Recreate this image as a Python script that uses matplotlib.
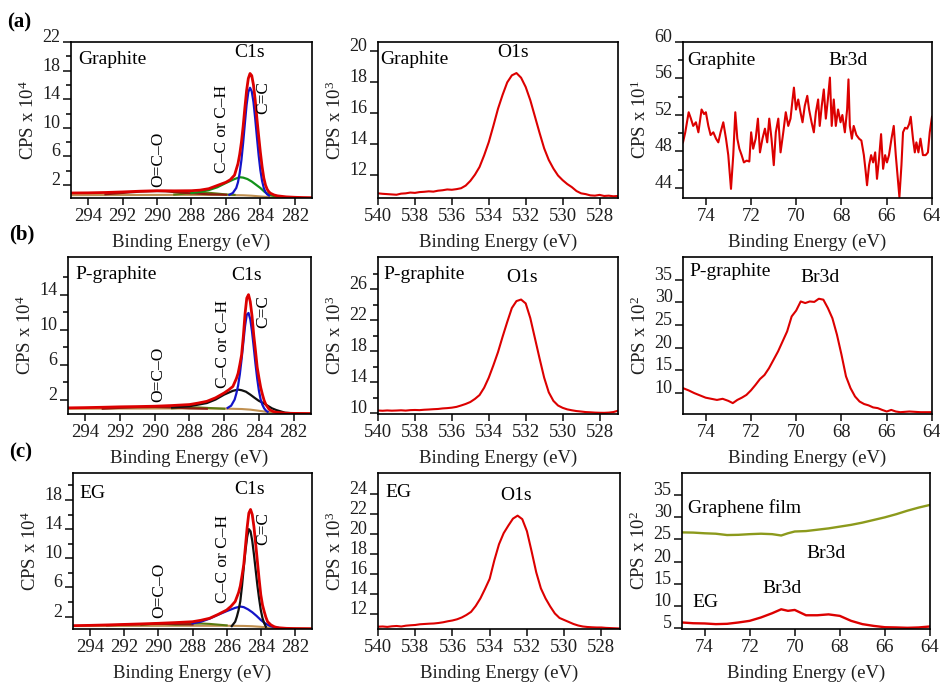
import matplotlib
matplotlib.use("Agg")
import matplotlib.pyplot as plt

plt.rcParams.update({
    "font.family": ["Liberation Serif", "DejaVu Serif"],
    "mathtext.fontset": "custom",
    "mathtext.rm": "Liberation Serif",
    "mathtext.it": "Liberation Serif:italic",
    "mathtext.bf": "Liberation Serif:bold",
    "axes.linewidth": 1.2,
})

# ---------------- C1s spectra ----------------
# (a) Graphite
c1s_a_env_x = [295.0, 294.0, 293.0, 292.0, 291.0, 290.0, 289.0, 288.0, 287.5, 287.0, 286.5, 286.0,
               285.75, 285.5, 285.3, 285.2, 285.1, 285.0, 284.9, 284.8, 284.7, 284.6, 284.5, 284.4,
               284.3, 284.2, 284.1, 284.0, 283.9, 283.8, 283.7, 283.6, 283.5, 283.4, 283.2, 283.0,
               282.5, 282.0, 281.5, 281.0]
c1s_a_env_y = [0.90, 0.92, 0.97, 1.05, 1.15, 1.22, 1.20, 1.22, 1.30, 1.50, 1.95, 2.40,
               2.75, 3.40, 5.00, 6.30, 8.00, 10.2, 12.8, 15.2, 16.9, 17.6, 17.3, 16.0,
               13.9, 11.3, 8.90, 6.60, 4.60, 3.00, 2.00, 1.40, 1.05, 0.85, 0.62, 0.50,
               0.36, 0.30, 0.26, 0.24]
c1s_a_cc2_x = [285.8, 285.6, 285.4, 285.3, 285.2, 285.1, 285.0, 284.9, 284.8, 284.7, 284.6, 284.5,
               284.4, 284.3, 284.2, 284.1, 284.0, 283.9, 283.8, 283.7, 283.6, 283.5]
c1s_a_cc2_y = [0.65, 0.90, 1.60, 2.40, 3.70, 5.50, 7.90, 10.6, 13.2, 15.0, 15.6, 15.1,
               13.6, 11.3, 8.70, 6.20, 4.10, 2.60, 1.60, 1.00, 0.70, 0.55]
c1s_a_cc_x = [288.0, 287.5, 287.0, 286.5, 286.0, 285.5, 285.2, 285.0, 284.75, 284.5, 284.25, 284.0,
              283.75, 283.5, 283.25, 283.0]
c1s_a_cc_y = [0.90, 1.05, 1.30, 1.70, 2.30, 2.85, 3.10, 3.05, 2.85, 2.50, 2.05, 1.60,
              1.05, 0.70, 0.50, 0.42]
c1s_a_oco_x = [293.0, 292.0, 291.0, 290.0, 289.5, 289.0, 288.0, 287.0, 286.0]
c1s_a_oco_y = [0.72, 0.90, 1.08, 1.15, 1.12, 1.02, 0.85, 0.72, 0.66]
c1s_a_co_x = [289.0, 288.5, 288.0, 287.5, 287.0, 286.5, 286.0, 285.5]
c1s_a_co_y = [0.68, 0.78, 0.88, 0.95, 0.93, 0.82, 0.70, 0.64]
c1s_a_bg_x = [295.0, 292.0, 289.0, 286.0, 285.0, 284.5, 284.0, 283.5, 283.0, 282.0, 281.0]
c1s_a_bg_y = [0.60, 0.62, 0.64, 0.62, 0.58, 0.52, 0.42, 0.32, 0.27, 0.23, 0.21]

# (b) P-graphite
c1s_b_env_x = [295.0, 294.0, 293.0, 292.0, 291.0, 290.0, 289.0, 288.0, 287.5, 287.0, 286.5, 286.0,
               285.75, 285.5, 285.3, 285.2, 285.1, 285.0, 284.9, 284.8, 284.7, 284.6, 284.5, 284.4,
               284.3, 284.2, 284.1, 284.0, 283.9, 283.8, 283.7, 283.6, 283.4, 283.2, 283.0, 282.5,
               282.0, 281.0]
c1s_b_env_y = [1.05, 1.08, 1.12, 1.17, 1.20, 1.24, 1.32, 1.43, 1.60, 1.80, 2.20, 2.76,
               3.10, 3.50, 4.40, 5.00, 6.00, 7.10, 9.20, 11.8, 13.6, 14.0, 13.2, 11.6,
               9.40, 7.60, 5.70, 4.50, 3.40, 2.60, 1.90, 1.43, 0.86, 0.65, 0.55, 0.45,
               0.42, 0.40]
c1s_b_cc2_x = [285.8, 285.6, 285.4, 285.3, 285.2, 285.1, 285.0, 284.9, 284.8, 284.7, 284.6, 284.5,
               284.4, 284.3, 284.2, 284.1, 284.0, 283.9, 283.8, 283.7, 283.6, 283.5]
c1s_b_cc2_y = [1.05, 1.30, 2.00, 2.70, 3.60, 4.90, 6.60, 8.50, 10.4, 11.7, 11.9, 11.2,
               9.80, 8.00, 6.10, 4.40, 3.00, 2.00, 1.40, 1.00, 0.75, 0.60]
c1s_b_cc_x = [289.0, 288.0, 287.0, 286.5, 286.0, 285.5, 285.2, 285.0, 284.75, 284.5, 284.25, 284.0,
              283.75, 283.5, 283.25, 283.0, 282.75, 282.5, 282.0]
c1s_b_cc_y = [1.10, 1.24, 1.60, 2.00, 2.57, 3.00, 3.14, 3.07, 2.90, 2.57, 2.20, 1.85,
              1.60, 1.30, 1.00, 0.80, 0.65, 0.50, 0.42]
c1s_b_oco_x = [293.0, 292.0, 291.0, 290.0, 289.0, 288.0, 287.0]
c1s_b_oco_y = [0.95, 1.05, 1.12, 1.15, 1.10, 1.00, 0.95]
c1s_b_co_x = [289.0, 288.5, 288.0, 287.5, 287.0, 286.5, 286.0]
c1s_b_co_y = [1.00, 1.06, 1.10, 1.10, 1.05, 1.00, 0.95]
c1s_b_bg_x = [295.0, 292.0, 289.0, 286.0, 285.0, 284.5, 284.0, 283.5, 283.0, 282.0, 281.0]
c1s_b_bg_y = [0.95, 0.97, 0.98, 0.97, 0.92, 0.85, 0.72, 0.58, 0.50, 0.43, 0.40]

# (c) EG
c1s_c_env_x = [295.0, 294.0, 293.0, 292.0, 291.0, 290.0, 289.0, 288.0, 287.5, 287.0, 286.5, 286.0,
               285.75, 285.5, 285.3, 285.2, 285.1, 285.0, 284.9, 284.8, 284.7, 284.6, 284.5, 284.4,
               284.3, 284.2, 284.1, 284.0, 283.9, 283.8, 283.7, 283.6, 283.4, 283.2, 283.0, 282.5,
               282.0, 281.0]
c1s_c_env_y = [0.76, 0.80, 0.86, 0.93, 1.00, 1.08, 1.18, 1.30, 1.50, 1.77, 2.30, 2.90,
               3.40, 4.07, 5.30, 6.20, 7.60, 9.10, 11.6, 14.2, 16.2, 16.7, 16.0, 14.3,
               12.0, 9.60, 7.20, 5.00, 3.60, 2.70, 1.90, 1.30, 0.85, 0.60, 0.48, 0.39,
               0.36, 0.34]
c1s_c_cc2_x = [285.7, 285.5, 285.4, 285.3, 285.2, 285.1, 285.0, 284.9, 284.8, 284.7, 284.6, 284.5,
               284.4, 284.3, 284.2, 284.1, 284.0, 283.9, 283.8, 283.7]
c1s_c_cc2_y = [0.70, 1.30, 2.00, 2.90, 4.10, 6.20, 8.70, 11.0, 12.9, 14.0, 13.7, 12.4,
               10.5, 8.40, 6.30, 4.50, 2.90, 1.80, 1.10, 0.60]
c1s_c_cc_x = [288.0, 287.5, 287.0, 286.5, 286.0, 285.5, 285.2, 285.0, 284.75, 284.5, 284.25, 284.0,
              283.75, 283.5, 283.25, 283.0]
c1s_c_cc_y = [1.08, 1.30, 1.72, 2.25, 2.75, 3.20, 3.38, 3.30, 3.00, 2.60, 2.10, 1.54,
              1.08, 0.76, 0.57, 0.48]
c1s_c_oco_x = [293.0, 292.0, 291.0, 290.0, 289.0, 288.0]
c1s_c_oco_y = [0.80, 0.88, 0.95, 1.00, 0.98, 0.92]
c1s_c_co_x = [291.0, 290.5, 290.0, 289.5, 289.0, 288.5, 288.0, 287.5, 287.0, 286.5, 286.0]
c1s_c_co_y = [0.85, 0.98, 1.05, 0.98, 0.90, 0.95, 1.03, 1.05, 1.00, 0.90, 0.80]
c1s_c_bg_x = [295.0, 292.0, 289.0, 286.0, 285.0, 284.5, 284.0, 283.5, 283.0, 282.0, 281.0]
c1s_c_bg_y = [0.70, 0.72, 0.74, 0.74, 0.72, 0.68, 0.60, 0.48, 0.42, 0.37, 0.34]

# ---------------- O1s spectra ----------------
o1s_x = [540.00, 539.75, 539.50, 539.25, 539.00, 538.75, 538.50, 538.25, 538.00, 537.75, 537.50,
         537.25, 537.00, 536.75, 536.50, 536.25, 536.00, 535.75, 535.50, 535.25, 535.00, 534.75,
         534.50, 534.25, 534.00, 533.75, 533.50, 533.25, 533.00, 532.75, 532.50, 532.25, 532.00,
         531.75, 531.50, 531.25, 531.00, 530.75, 530.50, 530.25, 530.00, 529.75, 529.50, 529.25,
         529.00, 528.75, 528.50, 528.25, 528.00, 527.75, 527.50, 527.25, 527.00]
o1s_a_y = [10.85, 10.82, 10.80, 10.78, 10.76, 10.83, 10.85, 10.90, 10.88, 10.93, 10.95,
           10.98, 10.96, 11.02, 11.05, 11.10, 11.08, 11.12, 11.18, 11.35, 11.65, 12.05,
           12.55, 13.30, 14.15, 15.20, 16.30, 17.20, 18.00, 18.45, 18.60, 18.30, 17.70,
           16.85, 15.80, 14.75, 13.75, 13.00, 12.45, 12.00, 11.70, 11.45, 11.25, 11.00,
           10.85, 10.80, 10.72, 10.70, 10.75, 10.68, 10.70, 10.66, 10.68]
o1s_b_y = [10.35, 10.32, 10.36, 10.33, 10.35, 10.38, 10.34, 10.40, 10.42, 10.40, 10.45,
           10.48, 10.52, 10.55, 10.62, 10.66, 10.72, 10.82, 11.00, 11.20, 11.45, 11.85,
           12.35, 13.30, 14.60, 16.20, 17.90, 19.90, 21.80, 23.60, 24.50, 24.70, 24.20,
           22.30, 19.70, 17.10, 14.60, 12.70, 11.60, 11.00, 10.70, 10.50, 10.38, 10.28,
           10.22, 10.15, 10.12, 10.08, 10.06, 10.05, 10.08, 10.15, 10.32]
o1s_c_y = [10.78, 10.80, 10.76, 10.82, 10.85, 10.80, 10.88, 10.92, 10.95, 11.02, 11.05,
           11.08, 11.10, 11.15, 11.22, 11.32, 11.40, 11.52, 11.70, 11.95, 12.26, 12.85,
           13.60, 14.55, 15.56, 17.40, 19.00, 20.10, 20.85, 21.55, 21.85, 21.50, 20.30,
           18.30, 16.20, 14.60, 13.60, 12.80, 12.10, 11.65, 11.45, 11.25, 11.05, 10.90,
           10.80, 10.75, 10.72, 10.70, 10.70, 10.66, 10.64, 10.62, 10.60]

# ---------------- Br3d spectra ----------------
br_a_x = [75.00, 74.90, 74.75, 74.65, 74.55, 74.43, 74.32, 74.18, 74.07, 73.99, 73.88, 73.78,
          73.66, 73.54, 73.44, 73.34, 73.22, 73.10, 73.00, 72.88, 72.78, 72.69, 72.60, 72.51,
          72.41, 72.31, 72.19, 72.07, 71.99, 71.90, 71.79, 71.69, 71.60, 71.49, 71.38, 71.28,
          71.19, 71.09, 70.99, 70.90, 70.79, 70.69, 70.57, 70.46, 70.35, 70.25, 70.16, 70.10,
          70.01, 69.91, 69.81, 69.72, 69.62, 69.51, 69.43, 69.32, 69.22, 69.13, 69.03, 68.96,
          68.87, 68.78, 68.69, 68.60, 68.51, 68.43, 68.34, 68.25, 68.15, 68.04, 67.96, 67.85,
          67.75, 67.69, 67.63, 67.54, 67.46, 67.34, 67.22, 67.12, 67.01, 66.93, 66.87, 66.78,
          66.69, 66.60, 66.51, 66.43, 66.34, 66.25, 66.16, 66.07, 65.99, 65.90, 65.79, 65.69,
          65.60, 65.51, 65.44, 65.35, 65.28, 65.19, 65.10, 65.01, 64.94, 64.84, 64.76, 64.69,
          64.60, 64.51, 64.40, 64.28, 64.18, 64.10, 64.00]
br_a_y = [49.0, 50.1, 52.3, 51.6, 50.8, 51.2, 50.1, 52.6, 52.1, 52.3, 50.8, 49.8,
          50.1, 49.4, 49.0, 50.1, 51.2, 49.4, 47.6, 43.9, 47.6, 52.3, 49.4, 48.3,
          47.6, 46.8, 47.0, 46.9, 50.1, 48.3, 49.4, 51.6, 47.9, 49.4, 50.5, 49.0,
          51.6, 49.4, 46.5, 50.1, 51.6, 47.9, 50.1, 52.3, 50.8, 51.6, 53.7, 55.0,
          52.6, 53.7, 52.3, 51.2, 53.0, 54.1, 52.6, 51.2, 50.1, 52.3, 53.7, 50.8,
          53.0, 54.8, 51.6, 53.7, 56.1, 50.8, 53.7, 50.8, 52.6, 51.2, 52.0, 50.1,
          52.6, 55.9, 50.8, 49.4, 50.8, 49.8, 49.4, 49.2, 47.6, 45.8, 44.3, 46.5,
          47.6, 46.8, 47.9, 45.0, 47.2, 49.9, 46.1, 47.6, 46.8, 47.6, 49.4, 50.8,
          47.6, 45.0, 43.0, 46.5, 50.1, 50.6, 50.5, 51.0, 51.8, 49.4, 47.9, 49.0,
          47.9, 49.4, 47.6, 47.6, 47.9, 50.1, 51.8]

br_b_x = [75.0, 74.75, 74.5, 74.25, 74.0, 73.75, 73.5, 73.25, 73.0, 72.8, 72.6, 72.4, 72.2,
          72.0, 71.8, 71.6, 71.4, 71.2, 71.0, 70.8, 70.6, 70.4, 70.2, 70.0, 69.8, 69.6, 69.4,
          69.2, 69.0, 68.8, 68.6, 68.4, 68.2, 68.0, 67.8, 67.6, 67.4, 67.2, 67.0, 66.8, 66.6,
          66.4, 66.2, 66.0, 65.8, 65.6, 65.4, 65.0, 64.5, 64.0]
br_b_y = [11.1, 10.6, 10.0, 9.5, 9.0, 8.75, 8.5, 8.75, 8.3, 7.8, 8.5, 9.0, 9.6,
          10.6, 11.8, 13.1, 14.0, 15.5, 17.35, 19.2, 21.4, 23.6, 26.9, 28.2, 30.2, 29.85, 30.2,
          30.1, 30.8, 30.6, 28.75, 26.5, 22.9, 18.5, 13.7, 11.1, 9.26, 8.15, 7.6, 7.3, 6.85,
          6.7, 6.3, 5.95, 6.3, 5.95, 5.8, 5.95, 5.8, 5.8]

br_c_x = [75.0, 74.5, 74.0, 73.5, 73.0, 72.5, 72.0, 71.5, 71.0, 70.6, 70.3, 70.0, 69.5,
          69.0, 68.5, 68.0, 67.5, 67.0, 66.5, 66.0, 65.5, 65.0, 64.5, 64.0]
br_c_eg_y = [6.27, 6.10, 6.05, 5.90, 5.97, 6.27, 6.64, 7.40, 8.36, 9.25, 8.90, 9.10, 7.90,
             7.90, 8.10, 7.76, 6.64, 5.90, 5.50, 5.20, 5.15, 5.07, 5.15, 5.37]
br_c_film_y = [26.6, 26.55, 26.4, 26.3, 26.0, 26.05, 26.2, 26.3, 26.2, 25.9, 26.4, 26.8, 26.9,
               27.2, 27.5, 27.9, 28.3, 28.8, 29.4, 30.0, 30.7, 31.5, 32.2, 32.8]

# ---------------- tick layout ----------------
c1s_xticks = [294, 292, 290, 288, 286, 284, 282]
o1s_xticks = [540, 538, 536, 534, 532, 530, 528]
br_xticks = [74, 72, 70, 68, 66, 64]

RED = "#dc0000"
BLUE = "#1414c8"
GREEN = "#12921a"
BLACK = "#101010"
MAROON = "#8b1a10"
OLIVE = "#5a7a10"
TAN = "#c09050"
FILM = "#8c9a1c"
INK = "#1e1e1e"

W, H = 940, 682
fig = plt.figure(figsize=(W / 100, H / 100), dpi=100)


def panel(left, top, right, bottom):
    return fig.add_axes([left / W, 1 - bottom / H, (right - left) / W, (bottom - top) / H])


def style(ax, xlim, xticks, ylim, yticks, yminor, exp):
    ax.set_xlim(*xlim)
    ax.set_ylim(*ylim)
    ax.set_xticks(xticks)
    ax.set_xticklabels([str(t) for t in xticks])
    ax.set_yticks(yticks)
    ax.set_yticklabels([str(t) for t in yticks])
    ax.set_yticks(yminor, minor=True)
    ax.tick_params(axis="x", which="major", direction="out", length=5, width=1.2,
                   labelsize=13.5, pad=2.5, colors=INK)
    ax.tick_params(axis="x", which="minor", bottom=False)
    ax.tick_params(axis="y", which="major", direction="out", length=6, width=1.2,
                   labelsize=13, pad=1.5, colors=INK)
    ax.tick_params(axis="y", which="minor", direction="out", length=3.5, width=1.1)
    for lab in ax.get_yticklabels():
        lab.set_verticalalignment("baseline")
    ax.set_xlabel("Binding Energy (eV)", fontsize=13.5, labelpad=6, color=INK)
    ax.set_ylabel("CPS x 10$^{%d}$" % exp, fontsize=13.5, labelpad=3, color=INK)


def c1s_panel(ax, env, cc2, cc, oco, co, bg, cc2_color, cc_color, ylim, yticks, yminor,
              name, pos):
    ax.plot(*bg, color=TAN, lw=1.5)
    ax.plot(*co, color=OLIVE, lw=1.5)
    ax.plot(*oco, color=MAROON, lw=1.5)
    ax.plot(*cc, color=cc_color, lw=1.6)
    ax.plot(*cc2, color=cc2_color, lw=1.6)
    ax.plot(*env, color=RED, lw=2.0)
    style(ax, (295, 281), c1s_xticks, ylim, yticks, yminor, 4)
    ax.text(pos["name"][0], pos["name"][1], name, fontsize=14, ha="left", va="center")
    ax.text(pos["c1s"][0], pos["c1s"][1], "C1s", fontsize=14, ha="center", va="center")
    ax.text(pos["oco"][0], pos["oco"][1], "O=C\u2013O", fontsize=12.5, rotation=90,
            ha="center", va="bottom")
    ax.text(pos["cc"][0], pos["cc"][1], "C\u2013C or C\u2013H", fontsize=12.5, rotation=90,
            ha="center", va="bottom")
    ax.text(pos["c2"][0], pos["c2"][1], "C=C", fontsize=12.5, rotation=90,
            ha="center", va="bottom")


# ---- row (a): Graphite ----
ax = panel(71, 42, 312, 198)
c1s_panel(ax, (c1s_a_env_x, c1s_a_env_y), (c1s_a_cc2_x, c1s_a_cc2_y), (c1s_a_cc_x, c1s_a_cc_y),
          (c1s_a_oco_x, c1s_a_oco_y), (c1s_a_co_x, c1s_a_co_y), (c1s_a_bg_x, c1s_a_bg_y),
          BLUE, GREEN, (0.2, 22), [2, 6, 10, 14, 18, 22], [4, 8, 12, 16, 20], "Graphite",
          {"name": (294.55, 19.5), "c1s": (284.6, 20.6), "oco": (289.95, 1.75),
           "cc": (286.2, 3.7), "c2": (283.85, 12.0)})

ax = panel(378, 42, 618, 198)
ax.plot(o1s_x, o1s_a_y, color=RED, lw=1.5)
style(ax, (540, 527), o1s_xticks, (10.55, 20.6), [12, 14, 16, 18, 20], [], 3)
ax.text(539.9, 19.45, "Graphite", fontsize=14, ha="left", va="center")
ax.text(532.7, 19.9, "O1s", fontsize=14, ha="center", va="center")

ax = panel(683, 42, 932, 198)
ax.plot(br_a_x, br_a_y, color=RED, lw=1.5)
style(ax, (75, 64), br_xticks, (42.9, 60), [44, 48, 52, 56, 60], [46, 50, 54, 58], 1)
ax.text(74.8, 58.0, "Graphite", fontsize=14, ha="left", va="center")
ax.text(67.7, 58.0, "Br3d", fontsize=14, ha="center", va="center")

# ---- row (b): P-graphite ----
ax = panel(68, 257, 311, 414)
c1s_panel(ax, (c1s_b_env_x, c1s_b_env_y), (c1s_b_cc2_x, c1s_b_cc2_y), (c1s_b_cc_x, c1s_b_cc_y),
          (c1s_b_oco_x, c1s_b_oco_y), (c1s_b_co_x, c1s_b_co_y), (c1s_b_bg_x, c1s_b_bg_y),
          BLUE, BLACK, (0.35, 18.3), [2, 6, 10, 14], [4, 8, 12, 16], "P-graphite",
          {"name": (294.55, 16.35), "c1s": (284.7, 16.2), "oco": (289.8, 1.75),
           "cc": (286.07, 3.3), "c2": (283.77, 10.2)})

ax = panel(378, 257, 618, 414)
ax.plot(o1s_x, o1s_b_y, color=RED, lw=1.5)
style(ax, (540, 527), o1s_xticks, (9.9, 30.2), [10, 14, 18, 22, 26], [12, 16, 20, 24, 28], 3)
ax.text(539.7, 27.9, "P-graphite", fontsize=14, ha="left", va="center")
ax.text(532.2, 27.5, "O1s", fontsize=14, ha="center", va="center")

ax = panel(683, 257, 932, 414)
ax.plot(br_b_x, br_b_y, color=RED, lw=1.5)
style(ax, (75, 64), br_xticks, (5.4, 40), [10, 15, 20, 25, 30, 35], [], 2)
ax.text(74.7, 36.7, "P-graphite", fontsize=14, ha="left", va="center")
ax.text(68.95, 35.4, "Br3d", fontsize=14, ha="center", va="center")

# ---- row (c): EG ----
ax = panel(73, 473, 312, 629)
c1s_panel(ax, (c1s_c_env_x, c1s_c_env_y), (c1s_c_cc2_x, c1s_c_cc2_y), (c1s_c_cc_x, c1s_c_cc_y),
          (c1s_c_oco_x, c1s_c_oco_y), (c1s_c_co_x, c1s_c_co_y), (c1s_c_bg_x, c1s_c_bg_y),
          BLACK, BLUE, (0.3, 21.7), [2, 6, 10, 14, 18], [4, 8, 12, 16, 20], "EG",
          {"name": (294.6, 18.95), "c1s": (284.63, 19.4), "oco": (289.96, 1.8),
           "cc": (286.2, 3.87), "c2": (283.87, 11.8)})

ax = panel(378, 473, 620, 629)
ax.plot(o1s_x, o1s_c_y, color=RED, lw=1.5)
style(ax, (540, 527), o1s_xticks, (10.55, 26.1), [12, 14, 16, 18, 20, 22, 24], [], 3)
ax.text(539.6, 24.2, "EG", fontsize=14, ha="left", va="center")
ax.text(532.6, 23.9, "O1s", fontsize=14, ha="center", va="center")

ax = panel(682, 473, 930, 629)
ax.plot(br_c_x, br_c_film_y, color=FILM, lw=1.7)
ax.plot(br_c_x, br_c_eg_y, color=RED, lw=1.7)
style(ax, (75, 64), br_xticks, (4.8, 40), [5, 10, 15, 20, 25, 30, 35], [], 2)
ax.text(74.73, 32.15, "Graphene film", fontsize=14, ha="left", va="center")
ax.text(68.6, 21.8, "Br3d", fontsize=14, ha="center", va="center")
ax.text(70.57, 14.0, "Br3d", fontsize=14, ha="center", va="center")
ax.text(74.56, 10.85, "EG", fontsize=14, ha="left", va="center")

# panel letters
for label, (px, py) in {"(a)": (7, 22), "(b)": (9, 234), "(c)": (9, 452)}.items():
    fig.text(px / W, 1 - py / H, label, fontsize=15, fontweight="bold", ha="left", va="center")

fig.savefig("out.png", dpi=100)
